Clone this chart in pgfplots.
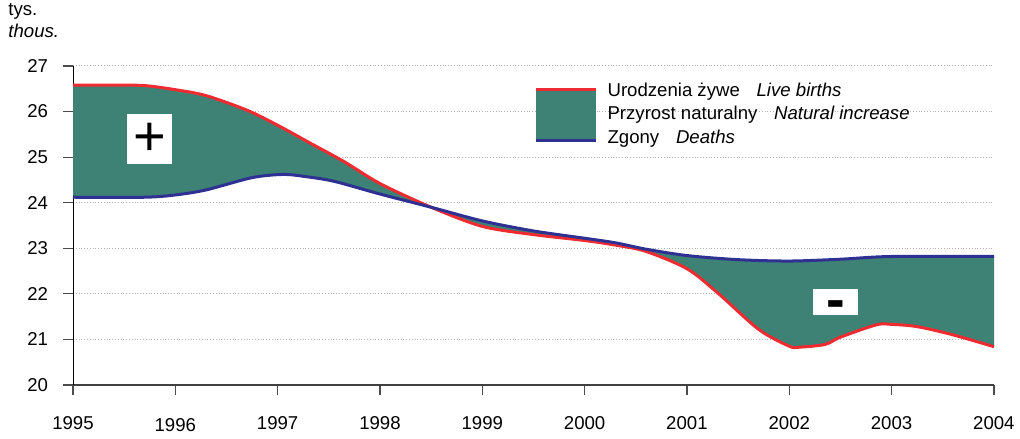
\documentclass[border=0pt]{standalone}
\usepackage{fontspec}
\setmainfont{Liberation Sans}
\usepackage{pgfplots}
\pgfplotsset{compat=1.18}
\usepgfplotslibrary{fillbetween}
\usetikzlibrary{calc}
\definecolor{births}{HTML}{EE2B30}
\definecolor{deaths}{HTML}{2E3192}
\definecolor{natinc}{HTML}{3D8275}
\begin{document}
\begin{tikzpicture}
\begin{axis}[
    name=ax,
    scale only axis,
    width=460.5pt, height=159.5pt,
    xmin=1995, xmax=2004,
    ymin=20, ymax=27,
    xtick={1995,...,2004},
    xticklabels={1995,\raisebox{-1.2pt}[\height][\depth]{1996},1997,1998,1999,2000,2001,2002,2003,2004},
    ytick={20,...,27},
    axis x line=bottom, axis y line=left,
    x axis line style={-, draw=black!75, line width=1.2pt},
    y axis line style={-, draw=black, line width=0.5pt},
    tick align=outside,
    major tick length=5pt,
    xtick style={draw=black!70, line width=0.6pt},
    ytick style={draw=black!70, line width=0.6pt},
    ymajorgrids,
    grid style={densely dotted, gray!60, line width=0.5pt},
    tick label style={font=\fontsize{9.3}{10}\selectfont},
    x tick label style={yshift=-7pt},
    y tick label style={xshift=-4pt},
    /pgf/number format/assume math mode=true,
    clip=false,
]
\addplot[name path=B, draw=none, smooth] coordinates {
    (1995.0,26.58) (1995.4,26.58) (1995.7,26.57) (1996.0,26.48) (1996.3,26.35)
    (1996.7,26.03) (1997.0,25.70) (1997.3,25.33) (1997.65,24.90) (1998.0,24.42)
    (1998.5,23.90) (1999.0,23.48) (1999.5,23.30) (2000.0,23.17) (2000.3,23.07)
    (2000.6,22.93) (2001.0,22.55) (2001.3,22.02) (2001.7,21.22) (2002.0,20.85)
    (2002.1,20.83) (2002.35,20.89) (2002.5,21.05) (2002.85,21.32) (2003.0,21.33)
    (2003.25,21.28) (2003.6,21.10) (2004.0,20.84)
};
\addplot[name path=D, draw=none, smooth] coordinates {
    (1995.0,24.12) (1995.7,24.12) (1996.0,24.17) (1996.3,24.28) (1996.75,24.55)
    (1997.05,24.62) (1997.25,24.58) (1997.55,24.47) (1998.0,24.19) (1998.5,23.90)
    (1999.0,23.60) (1999.5,23.38) (2000.0,23.22) (2000.3,23.12) (2000.6,22.98)
    (2001.0,22.84) (2001.5,22.75) (2002.0,22.72) (2002.5,22.76) (2003.0,22.82)
    (2004.0,22.82)
};
\addplot[fill=natinc, draw=none] fill between[of=B and D];
% lines on top of the fill
\addplot[births, line width=1.5pt, smooth] coordinates {
    (1995.0,26.58) (1995.4,26.58) (1995.7,26.57) (1996.0,26.48) (1996.3,26.35)
    (1996.7,26.03) (1997.0,25.70) (1997.3,25.33) (1997.65,24.90) (1998.0,24.42)
    (1998.5,23.90) (1999.0,23.48) (1999.5,23.30) (2000.0,23.17) (2000.3,23.07)
    (2000.6,22.93) (2001.0,22.55) (2001.3,22.02) (2001.7,21.22) (2002.0,20.85)
    (2002.1,20.83) (2002.35,20.89) (2002.5,21.05) (2002.85,21.32) (2003.0,21.33)
    (2003.25,21.28) (2003.6,21.10) (2004.0,20.84)
};
\addplot[deaths, line width=1.5pt, smooth] coordinates {
    (1995.0,24.12) (1995.7,24.12) (1996.0,24.17) (1996.3,24.28) (1996.75,24.55)
    (1997.05,24.62) (1997.25,24.58) (1997.55,24.47) (1998.0,24.19) (1998.5,23.90)
    (1999.0,23.60) (1999.5,23.38) (2000.0,23.22) (2000.3,23.12) (2000.6,22.98)
    (2001.0,22.84) (2001.5,22.75) (2002.0,22.72) (2002.5,22.76) (2003.0,22.82)
    (2004.0,22.82)
};
% sign boxes
\node[fill=white, minimum width=22.5pt, minimum height=25pt, inner sep=0pt,
      font=\fontsize{28}{28}\selectfont] at (axis cs:1995.75,25.40) {+};
\node[fill=white, minimum width=22.5pt, minimum height=13pt, inner sep=0pt]
      at (axis cs:2002.45,21.82) {};
\node[anchor=base, inner sep=0pt, yshift=-8.1pt, font=\bfseries\fontsize{28}{28}\selectfont]
      at (axis cs:2002.45,21.82) {-};
% legend
\fill[natinc] (axis cs:1999.52,25.354) rectangle (axis cs:2000.11,26.495);
\draw[births, line width=1.5pt] (axis cs:1999.52,26.48) -- (axis cs:2000.11,26.48);
\draw[deaths, line width=1.5pt] (axis cs:1999.52,25.37) -- (axis cs:2000.11,25.37);
\begin{scope}[every node/.style={anchor=west, inner sep=0pt, font=\fontsize{9.3}{11}\selectfont}]
\node at (axis cs:2000.22,26.43) {Urodzenia żywe\hspace{0.9em}\textit{Live births}};
\node at (axis cs:2000.22,25.925) {Przyrost naturalny\hspace{0.9em}\textit{Natural increase}};
\node at (axis cs:2000.22,25.40) {Zgony\hspace{0.9em}\textit{Deaths}};
\end{scope}
% unit label
\node[anchor=north west, inner sep=0pt, align=left, font=\fontsize{9.3}{11}\selectfont]
    at ($(rel axis cs:0,1)+(-32.5pt,31.5pt)$) {tys.\\\textit{thous.}};
\end{axis}
\pgfresetboundingbox
\path[use as bounding box] ($(ax.south west)+(-36.5pt,-27pt)$) rectangle ($(ax.north east)+(13pt,33pt)$);
\end{tikzpicture}
\end{document}
